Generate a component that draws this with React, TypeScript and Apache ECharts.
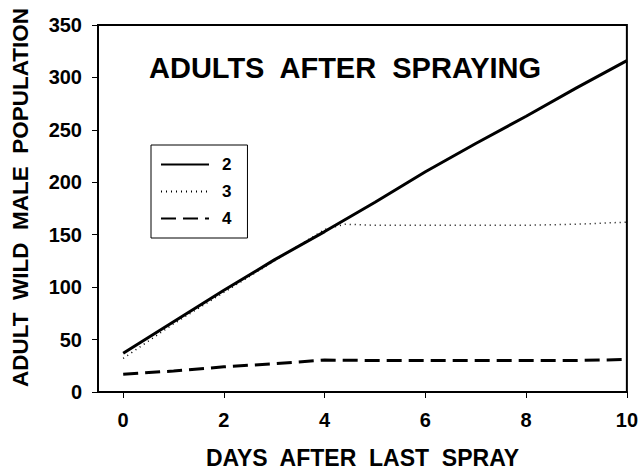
import React, { useEffect, useRef } from "react";
import * as echarts from "echarts";

const days = [0, 1, 2, 3, 4, 5, 6, 7, 8, 9, 10];
const series2 = [37, 67, 97, 126, 153, 181, 210, 237, 263, 290, 316];
const days3 = [0, 1, 2, 3, 4, 4.4, 5, 6, 7, 8, 9, 10];
const series3 = [32, 65, 95, 125, 155, 160, 159, 159, 159, 159, 160, 162];
const series4 = [17, 20, 24, 27, 30.5, 30, 30, 30, 30, 30, 31];
const xTicks = [0, 2, 4, 6, 8, 10];
const seriesNames = ["2", "3", "4"];

const FONT = "'Liberation Sans', Arial, sans-serif";

export default function App() {
  const ref = useRef<HTMLDivElement>(null);
  useEffect(() => {
    if (!ref.current) return;
    const chart = echarts.init(ref.current, null, { renderer: "svg" });
    chart.setOption({
      animation: false,
      backgroundColor: "#fff",
      textStyle: { fontFamily: FONT, fontWeight: "bold", color: "#000" },
      title: {
        text: "ADULTS  AFTER  SPRAYING",
        left: 144,
        top: 48,
        textStyle: { fontFamily: FONT, fontSize: 29, fontWeight: "bold", color: "#000" },
      },
      legend: {
        orient: "vertical",
        left: 151,
        top: 145,
        data: seriesNames,
        backgroundColor: "#fff",
        borderColor: "#000",
        borderWidth: 1,
        padding: [11, 16, 11, 9],
        itemWidth: 48,
        itemHeight: 14,
        itemGap: 10,
        itemStyle: { color: "transparent", borderColor: "transparent", borderWidth: 0 },
        textStyle: { fontFamily: FONT, fontSize: 17, fontWeight: "bold", color: "#000", padding: [0, 0, 0, 8] },
      },
      grid: {
        left: 98,
        right: 12,
        top: 25,
        bottom: 76,
        show: true,
        borderColor: "#000",
        borderWidth: 2,
        backgroundColor: "transparent",
      },
      xAxis: {
        type: "value",
        min: -0.5,
        max: 10,
        name: "DAYS  AFTER  LAST  SPRAY",
        nameLocation: "middle",
        nameGap: 54,
        nameTextStyle: { fontFamily: FONT, fontSize: 23, fontWeight: "bold", color: "#000" },
        axisLine: { show: true, onZero: false, lineStyle: { color: "#000", width: 2 } },
        axisTick: { show: true, length: 6, customValues: xTicks, lineStyle: { color: "#000", width: 1 } },
        axisLabel: { customValues: xTicks, margin: 18, fontFamily: FONT, fontSize: 20, fontWeight: "bold", color: "#000" },
        splitLine: { show: false },
      },
      yAxis: {
        type: "value",
        min: 0,
        max: 350,
        interval: 50,
        name: "ADULT  WILD  MALE  POPULATION",
        nameLocation: "middle",
        nameGap: 66,
        nameTextStyle: { fontFamily: FONT, fontSize: 22.5, fontWeight: "bold", color: "#000", padding: [0, 0, 0, 22] },
        axisLine: { show: true, onZero: false, lineStyle: { color: "#000", width: 2 } },
        axisTick: { show: true, length: 6, lineStyle: { color: "#000", width: 1 } },
        axisLabel: { margin: 16, fontFamily: FONT, fontSize: 20, fontWeight: "bold", color: "#000" },
        splitLine: { show: false },
      },
      series: [
        {
          name: seriesNames[0],
          type: "line",
          symbol: "none",
          data: days.map((d, i) => [d, series2[i]]),
          lineStyle: { color: "#000", width: 3, type: "solid" },
          itemStyle: { color: "#000" },
        },
        {
          name: seriesNames[1],
          type: "line",
          symbol: "none",
          data: days3.map((d, i) => [d, series3[i]]),
          lineStyle: { color: "#000", width: 1.5, type: [1, 4] },
          itemStyle: { color: "#000" },
        },
        {
          name: seriesNames[2],
          type: "line",
          symbol: "none",
          data: days.map((d, i) => [d, series4[i]]),
          lineStyle: { color: "#000", width: 3, type: [15, 7] },
          itemStyle: { color: "#000" },
        },
      ],
    });
    return () => chart.dispose();
  }, []);
  return <div ref={ref} style={{ width: 641, height: 474, position: "absolute", left: 0, top: 0 }} />;
}
